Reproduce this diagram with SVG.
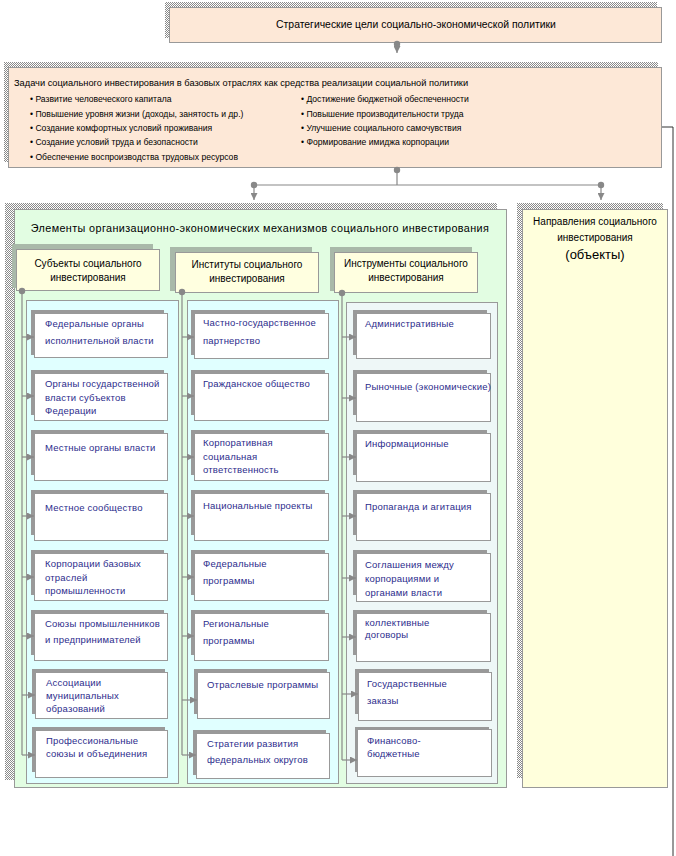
<svg xmlns="http://www.w3.org/2000/svg" width="676" height="856" viewBox="0 0 676 856">
<defs>
<pattern id="hatch" width="2" height="2" patternUnits="userSpaceOnUse">
<rect width="2" height="2" fill="#ffffff"/>
<rect width="1" height="1" fill="#8a8a8a"/>
<rect x="1" y="1" width="1" height="1" fill="#8a8a8a"/>
</pattern>
<marker id="arr" markerWidth="7" markerHeight="7" refX="7" refY="3.5" orient="auto" markerUnits="userSpaceOnUse">
<path d="M0,0 L7,3.5 L0,7 z" fill="#888"/>
</marker>
<style>
text{font-family:"Liberation Sans",Arial,sans-serif;}
.hs{fill:url(#hatch);}
.peach{fill:#fde8d7;stroke:#999;stroke-width:1;}
.green{fill:#e2fde2;stroke:#999;}
.yel{fill:#ffffdc;stroke:#999;}
.hsh{fill:#a9b9a9;}
.hdr{fill:#ffffe0;stroke:#999;}
.pan{fill:#e0ffff;stroke:#999;}
.pan3{fill:#eef7f7;stroke:#999;}
.bsh{fill:#999;}
.box{fill:#fff;stroke:#999;}
.bt{fill:#2c2c8c;font-size:9.5px;letter-spacing:0.2px;}
.ht{fill:#000;font-size:10px;text-anchor:middle;}
.tt{fill:#000;font-size:8.6px;}
.ln{stroke:#888;fill:none;stroke-width:1.2;}
.dot{fill:#888;}
</style>
</defs>

<g id="strategic">
<rect class="hs" x="165" y="2" width="492" height="36"/>
<rect class="peach" x="169.5" y="7.5" width="492" height="35"/>
<text class="ht" x="416" y="28" style="font-size:10.4px">Стратегические цели социально-экономической политики</text>
</g>

<g id="tasks">
<rect class="hs" x="4" y="62" width="654" height="100"/>
<rect class="peach" x="8.5" y="67.5" width="653" height="100"/>
<text x="14" y="86" font-size="9.25" fill="#000">Задачи социального инвестирования в базовых отраслях как средства реализации социальной политики</text>
<text class="tt" x="30" y="102">• Развитие человеческого капитала</text>
<text class="tt" x="30" y="117">• Повышение уровня жизни (доходы, занятость и др.)</text>
<text class="tt" x="30" y="131">• Создание комфортных условий проживания</text>
<text class="tt" x="30" y="145">• Создание условий труда и безопасности</text>
<text class="tt" x="30" y="160">• Обеспечение воспроизводства трудовых ресурсов</text>
<text class="tt" x="301" y="102">• Достижение бюджетной обеспеченности</text>
<text class="tt" x="301" y="117">• Повышение производительности труда</text>
<text class="tt" x="301" y="131">• Улучшение социального самочувствия</text>
<text class="tt" x="301" y="145">• Формирование имиджа корпорации</text>
</g>

<g id="elements">
<rect class="hs" x="5" y="203" width="492" height="577"/>
<rect class="green" x="14.5" y="209.5" width="492" height="578"/>
<text x="260" y="232" font-size="10.8" letter-spacing="0.4" text-anchor="middle" fill="#000">Элементы организационно-экономических механизмов социального инвестирования</text>
</g>

<g id="directions">
<rect class="hs" x="517" y="203" width="146" height="575"/>
<rect class="yel" x="522.5" y="209.5" width="145" height="578"/>
<text class="ht" x="595" y="225">Направления социального</text>
<text class="ht" x="595" y="241">инвестирования</text>
<text class="ht" x="595" y="259" style="font-size:13px">(объекты)</text>
</g>

<g id="subjects">
<rect class="hsh" x="12" y="244" width="141" height="44"/>
<rect class="hdr" x="16.5" y="249.5" width="143" height="41"/>
<text class="ht" x="88" y="267">Субъекты социального</text>
<text class="ht" x="88" y="281">инвестирования</text>
<rect class="pan" x="26.5" y="300.5" width="152" height="483"/>
</g>
<g id="institutes">
<rect class="hsh" x="170" y="247" width="142" height="44"/>
<rect class="hdr" x="175.5" y="252.5" width="143" height="40"/>
<text class="ht" x="247" y="268">Институты социального</text>
<text class="ht" x="247" y="282">инвестирования</text>
<rect class="pan" x="187.5" y="300.5" width="151" height="483"/>
</g>
<g id="instruments">
<rect class="hsh" x="330" y="247" width="142" height="44"/>
<rect class="hdr" x="334.5" y="252.5" width="143" height="40"/>
<text class="ht" x="406" y="267">Инструменты социального</text>
<text class="ht" x="406" y="281">инвестирования</text>
<rect class="pan3" x="346.5" y="302.5" width="151" height="481"/>
</g>

<!-- column 1 boxes -->
<g id="s1"><rect class="bsh" x="31" y="310" width="133" height="45"/><rect class="box" x="34.5" y="313.5" width="133" height="44"/>
<text class="bt" x="45" y="327">Федеральные органы</text><text class="bt" x="45" y="344">исполнительной власти</text></g>
<g id="s2"><rect class="bsh" x="31" y="370" width="133" height="45"/><rect class="box" x="34.5" y="373.5" width="133" height="47"/>
<text class="bt" x="45" y="387">Органы государственной</text><text class="bt" x="45" y="401">власти субъектов</text><text class="bt" x="45" y="414">Федерации</text></g>
<g id="s3"><rect class="bsh" x="31" y="430" width="133" height="45"/><rect class="box" x="34.5" y="433.5" width="133" height="47"/>
<text class="bt" x="45" y="451">Местные органы власти</text></g>
<g id="s4"><rect class="bsh" x="31" y="490" width="133" height="45"/><rect class="box" x="34.5" y="493.5" width="133" height="47"/>
<text class="bt" x="45" y="511">Местное сообщество</text></g>
<g id="s5"><rect class="bsh" x="31" y="550" width="133" height="45"/><rect class="box" x="34.5" y="553.5" width="133" height="47"/>
<text class="bt" x="45" y="567">Корпорации базовых</text><text class="bt" x="45" y="581">отраслей</text><text class="bt" x="45" y="594">промышленности</text></g>
<g id="s6"><rect class="bsh" x="31" y="610" width="133" height="45"/><rect class="box" x="34.5" y="613.5" width="133" height="47"/>
<text class="bt" x="45" y="627">Союзы промышленников</text><text class="bt" x="45" y="643">и предпринимателей</text></g>
<g id="s7"><rect class="bsh" x="32" y="669" width="133" height="45"/><rect class="box" x="35.5" y="672.5" width="132" height="46"/>
<text class="bt" x="46" y="686">Ассоциации</text><text class="bt" x="46" y="699">муниципальных</text><text class="bt" x="46" y="712">образований</text></g>
<g id="s8"><rect class="bsh" x="32" y="727" width="133" height="45"/><rect class="box" x="35.5" y="730.5" width="132" height="47"/>
<text class="bt" x="46" y="744">Профессиональные</text><text class="bt" x="46" y="757">союзы и объединения</text></g>

<!-- column 2 boxes -->
<g id="i1"><rect class="bsh" x="191" y="310" width="134" height="45"/><rect class="box" x="194.5" y="313.5" width="134" height="45"/>
<text class="bt" x="203" y="326">Частно-государственное</text><text class="bt" x="203" y="344">партнерство</text></g>
<g id="i2"><rect class="bsh" x="191" y="370" width="134" height="45"/><rect class="box" x="194.5" y="373.5" width="134" height="47"/>
<text class="bt" x="203" y="387">Гражданское общество</text></g>
<g id="i3"><rect class="bsh" x="191" y="430" width="134" height="45"/><rect class="box" x="194.5" y="433.5" width="134" height="47"/>
<text class="bt" x="203" y="446">Корпоративная</text><text class="bt" x="203" y="460">социальная</text><text class="bt" x="203" y="473">ответственность</text></g>
<g id="i4"><rect class="bsh" x="191" y="490" width="134" height="45"/><rect class="box" x="194.5" y="493.5" width="134" height="47"/>
<text class="bt" x="203" y="509">Национальные проекты</text></g>
<g id="i5"><rect class="bsh" x="191" y="550" width="134" height="45"/><rect class="box" x="194.5" y="553.5" width="134" height="47"/>
<text class="bt" x="203" y="567">Федеральные</text><text class="bt" x="203" y="584">программы</text></g>
<g id="i6"><rect class="bsh" x="191" y="610" width="134" height="45"/><rect class="box" x="194.5" y="613.5" width="134" height="47"/>
<text class="bt" x="203" y="627">Региональные</text><text class="bt" x="203" y="644">программы</text></g>
<g id="i7"><rect class="bsh" x="194" y="669" width="133" height="45"/><rect class="box" x="197.5" y="672.5" width="132" height="46"/>
<text class="bt" x="207" y="688">Отраслевые программы</text></g>
<g id="i8"><rect class="bsh" x="193" y="730" width="133" height="45"/><rect class="box" x="196.5" y="733.5" width="133" height="45"/>
<text class="bt" x="207" y="747">Стратегии развития</text><text class="bt" x="207" y="763">федеральных округов</text></g>

<!-- column 3 boxes -->
<g id="n1"><rect class="bsh" x="353" y="310" width="134" height="45"/><rect class="box" x="356.5" y="313.5" width="134" height="45"/>
<text class="bt" x="365" y="327">Административные</text></g>
<g id="n2"><rect class="bsh" x="353" y="370" width="134" height="45"/><rect class="box" x="356.5" y="373.5" width="134" height="48"/>
<text class="bt" x="365" y="390">Рыночные (экономические)</text></g>
<g id="n3"><rect class="bsh" x="353" y="430" width="134" height="45"/><rect class="box" x="356.5" y="433.5" width="134" height="48"/>
<text class="bt" x="365" y="447">Информационные</text></g>
<g id="n4"><rect class="bsh" x="353" y="490" width="134" height="45"/><rect class="box" x="356.5" y="493.5" width="134" height="47"/>
<text class="bt" x="365" y="510">Пропаганда и агитация</text></g>
<g id="n5"><rect class="bsh" x="353" y="550" width="134" height="45"/><rect class="box" x="356.5" y="553.5" width="134" height="48"/>
<text class="bt" x="365" y="568">Соглашения между</text><text class="bt" x="365" y="582">корпорациями и</text><text class="bt" x="365" y="596">органами власти</text></g>
<g id="n6"><rect class="bsh" x="353" y="610" width="134" height="45"/><rect class="box" x="356.5" y="613.5" width="134" height="48"/>
<text class="bt" x="365" y="626">коллективные</text><text class="bt" x="365" y="638">договоры</text></g>
<g id="n7"><rect class="bsh" x="355" y="669" width="134" height="45"/><rect class="box" x="358.5" y="672.5" width="133" height="48"/>
<text class="bt" x="367" y="687">Государственные</text><text class="bt" x="367" y="704">заказы</text></g>
<g id="n8"><rect class="bsh" x="355" y="727" width="134" height="45"/><rect class="box" x="357.5" y="729.5" width="134" height="47"/>
<text class="bt" x="367" y="744">Финансово-</text><text class="bt" x="367" y="757">бюджетные</text></g>

<g id="connectors">
<circle class="dot" cx="397" cy="44" r="3.2"/>
<path class="ln" d="M397,44 V53" marker-end="url(#arr)"/>
<circle class="dot" cx="397" cy="170" r="3.2"/>
<path class="ln" d="M397,170 V185 M254,185 H601"/>
<circle class="dot" cx="254" cy="185" r="3.2"/>
<circle class="dot" cx="601" cy="185" r="3.2"/>
<path class="ln" d="M254,185 V200" marker-end="url(#arr)"/>
<path class="ln" d="M601,185 V200" marker-end="url(#arr)"/>
<path d="M662,127 H673 V856" stroke="#333" fill="none" stroke-width="1"/>

<circle class="dot" cx="22" cy="291" r="3.2"/>
<path class="ln" d="M22,291 V755"/>
<path class="ln" d="M22,337 H34" marker-end="url(#arr)"/>
<path class="ln" d="M22,396 H34" marker-end="url(#arr)"/>
<path class="ln" d="M22,457 H34" marker-end="url(#arr)"/>
<path class="ln" d="M22,516 H34" marker-end="url(#arr)"/>
<path class="ln" d="M22,577 H34" marker-end="url(#arr)"/>
<path class="ln" d="M22,636 H34" marker-end="url(#arr)"/>
<path class="ln" d="M22,695 H35" marker-end="url(#arr)"/>
<path class="ln" d="M22,755 H35" marker-end="url(#arr)"/>

<circle class="dot" cx="182" cy="292" r="3.2"/>
<path class="ln" d="M182,292 V755"/>
<path class="ln" d="M182,337 H194" marker-end="url(#arr)"/>
<path class="ln" d="M182,396 H194" marker-end="url(#arr)"/>
<path class="ln" d="M182,457 H194" marker-end="url(#arr)"/>
<path class="ln" d="M182,516 H194" marker-end="url(#arr)"/>
<path class="ln" d="M182,577 H194" marker-end="url(#arr)"/>
<path class="ln" d="M182,636 H194" marker-end="url(#arr)"/>
<path class="ln" d="M182,700 H197" marker-end="url(#arr)"/>
<path class="ln" d="M182,755 H196" marker-end="url(#arr)"/>

<circle class="dot" cx="342" cy="293" r="3.2"/>
<path class="ln" d="M342,293 V760"/>
<path class="ln" d="M342,337 H356" marker-end="url(#arr)"/>
<path class="ln" d="M342,398 H356" marker-end="url(#arr)"/>
<path class="ln" d="M342,457 H356" marker-end="url(#arr)"/>
<path class="ln" d="M342,516 H356" marker-end="url(#arr)"/>
<path class="ln" d="M342,578 H356" marker-end="url(#arr)"/>
<path class="ln" d="M342,637 H356" marker-end="url(#arr)"/>
<path class="ln" d="M342,694 H358" marker-end="url(#arr)"/>
<path class="ln" d="M342,760 H357" marker-end="url(#arr)"/>
</g>
</svg>
